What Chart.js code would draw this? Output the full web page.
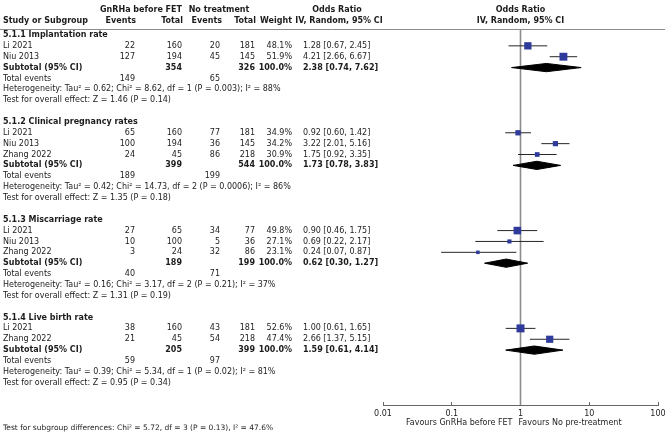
<!DOCTYPE html>
<html lang="en">
<head>
<meta charset="UTF-8">
<title>Forest plot</title>
<script src="https://cdn.jsdelivr.net/npm/chart.js"></script>
<style>
  html, body { margin: 0; padding: 0; background: #fff; }
  #wrap { width: 665px; height: 438px; }
</style>
</head>
<body>
<div id="wrap"><canvas id="forest" width="665" height="438"></canvas></div>
<script>
// ---- study level data ----
var studyGroup = [0, 0, 1, 1, 1, 2, 2, 2, 3, 3];
var studyNames = ["Li 2021", "Niu 2013", "Li 2021", "Niu 2013", "Zhang 2022", "Li 2021", "Niu 2013", "Zhang 2022", "Li 2021", "Zhang 2022"];
var gnrhEvents = [22, 127, 65, 100, 24, 27, 10, 3, 38, 21];
var gnrhTotal  = [160, 194, 160, 194, 45, 65, 100, 24, 160, 45];
var noEvents   = [20, 45, 77, 36, 86, 34, 5, 32, 43, 54];
var noTotal    = [181, 145, 181, 145, 218, 77, 36, 86, 181, 218];
var weights    = [48.1, 51.9, 34.9, 34.2, 30.9, 49.8, 27.1, 23.1, 52.6, 47.4];
var oddsRatio  = [1.28, 4.21, 0.92, 3.22, 1.75, 0.90, 0.69, 0.24, 1.00, 2.66];
var ciLow      = [0.67, 2.66, 0.60, 2.01, 0.92, 0.46, 0.22, 0.07, 0.61, 1.37];
var ciHigh     = [2.45, 6.67, 1.42, 5.16, 3.35, 1.75, 2.17, 0.87, 1.65, 5.15];

// ---- subgroup data ----
var groupTitles   = ["5.1.1 Implantation rate", "5.1.2 Clinical pregnancy rates", "5.1.3 Miscarriage rate", "5.1.4 Live birth rate"];
var subGnrhTotal  = [354, 399, 189, 205];
var subNoTotal    = [326, 544, 199, 399];
var subOr         = [2.38, 1.73, 0.62, 1.59];
var subLow        = [0.74, 0.78, 0.30, 0.61];
var subHigh       = [7.62, 3.83, 1.27, 4.14];
var sumGnrhEvents = [149, 189, 40, 59];
var sumNoEvents   = [65, 199, 71, 97];
var heterogeneity = [
  "Heterogeneity: Tau² = 0.62; Chi² = 8.62, df = 1 (P = 0.003); I² = 88%",
  "Heterogeneity: Tau² = 0.42; Chi² = 14.73, df = 2 (P = 0.0006); I² = 86%",
  "Heterogeneity: Tau² = 0.16; Chi² = 3.17, df = 2 (P = 0.21); I² = 37%",
  "Heterogeneity: Tau² = 0.39; Chi² = 5.34, df = 1 (P = 0.02); I² = 81%"
];
var overallEffect = [
  "Test for overall effect: Z = 1.46 (P = 0.14)",
  "Test for overall effect: Z = 1.35 (P = 0.18)",
  "Test for overall effect: Z = 1.31 (P = 0.19)",
  "Test for overall effect: Z = 0.95 (P = 0.34)"
];
var subgroupTest = "Test for subgroup differences: Chi² = 5.72, df = 3 (P = 0.13), I² = 47.6%";

// ---- axis ----
var tickValues = [0.01, 0.1, 1, 10, 100];
var tickLabels = ["0.01", "0.1", "1", "10", "100"];
var favoursLeft = "Favours GnRHa before FET";
var favoursRight = "Favours No pre-treatment";

// build the row list (one row per printed line)
var rows = [];
var studyRow = [];
var subRow = [];
groupTitles.forEach(function (t, g) {
  rows.push({ kind: "title", g: g });
  for (var i = 0; i < studyNames.length; i++) {
    if (studyGroup[i] === g) {
      studyRow[i] = rows.length;
      rows.push({ kind: "study", i: i });
    }
  }
  subRow[g] = rows.length;
  rows.push({ kind: "sub", g: g });
  rows.push({ kind: "events", g: g });
  rows.push({ kind: "het", g: g });
  rows.push({ kind: "effect", g: g });
  if (g < groupTitles.length - 1) rows.push({ kind: "blank" });
});

var Y_MIN = -0.55, Y_MAX = 34.05;
var TEXT = "#1c1c1c";
var FONT = "'DejaVu Sans', sans-serif";

function fmtOr(o, l, h) {
  return o.toFixed(2) + " [" + l.toFixed(2) + ", " + h.toFixed(2) + "]";
}

// datasets
var datasets = [];

// squares (size from weight)
datasets.push({
  type: "scatter",
  data: oddsRatio.map(function (o, i) { return { x: o, y: studyRow[i] }; }),
  pointStyle: "rect",
  pointRadius: weights.map(function (w) { return w * 0.152 / 1.414; }),
  pointBackgroundColor: "#2f3b9b",
  pointBorderColor: "#2f3b9b",
  pointBorderWidth: 0
});

// diamonds: upper half filled to lower half
subOr.forEach(function (o, g) {
  var r = subRow[g];
  datasets.push({
    type: "line",
    data: [{ x: subLow[g], y: r }, { x: o, y: r - 0.38 }, { x: subHigh[g], y: r }],
    borderColor: "#000", borderWidth: 1, pointRadius: 0, tension: 0,
    backgroundColor: "#000", fill: "+1"
  });
  datasets.push({
    type: "line",
    data: [{ x: subLow[g], y: r }, { x: o, y: r + 0.38 }, { x: subHigh[g], y: r }],
    borderColor: "#000", borderWidth: 1, pointRadius: 0, tension: 0, fill: false
  });
});

// confidence intervals
ciLow.forEach(function (l, i) {
  datasets.push({
    type: "line",
    data: [{ x: l, y: studyRow[i] }, { x: ciHigh[i], y: studyRow[i] }],
    borderColor: "#262626", borderWidth: 1, pointRadius: 0, fill: false
  });
});

// line of no effect
datasets.push({
  type: "line",
  data: [{ x: 1, y: Y_MIN }, { x: 1, y: Y_MAX }],
  borderColor: "#8c8c8c", borderWidth: 1.6, pointRadius: 0, fill: false
});

var tablePlugin = {
  id: "forestTable",
  afterDraw: function (chart) {
    var ctx = chart.ctx;
    var ys = chart.scales.y;
    var xs = chart.scales.x;
    var x1 = xs.getPixelForValue(1);
    var col = { name: 3, e1: 135, t1: 182, e2: 220, t2: 255, w: 292, or: 303 };

    function txt(s, x, y, align, bold, size) {
      ctx.font = (bold ? "bold " : "") + (size || 8) + "px " + FONT;
      ctx.textAlign = align;
      ctx.fillText(s, x, y);
    }

    ctx.save();
    ctx.fillStyle = TEXT;
    ctx.textBaseline = "middle";

    // headers
    txt("GnRHa before FET", 141, 10, "center", true);
    txt("No treatment", 219, 10, "center", true);
    txt("Odds Ratio", 337, 10, "center", true);
    txt("Odds Ratio", x1, 10, "center", true);
    txt("Study or Subgroup", col.name, 21, "left", true);
    txt("Events", col.e1 + 1, 21, "right", true);
    txt("Total", col.t1 + 1, 21, "right", true);
    txt("Events", col.e2 + 2, 21, "right", true);
    txt("Total", col.t2 + 1, 21, "right", true);
    txt("Weight", col.w, 21, "right", true);
    txt("IV, Random, 95% CI", 339, 21, "center", true);
    txt("IV, Random, 95% CI", x1, 21, "center", true);

    // header rule
    ctx.strokeStyle = "#8c8c8c";
    ctx.lineWidth = 1;
    ctx.beginPath();
    ctx.moveTo(0, chart.chartArea.top + 0.5);
    ctx.lineTo(chart.width, chart.chartArea.top + 0.5);
    ctx.stroke();

    rows.forEach(function (r, k) {
      var y = ys.getPixelForValue(k);
      if (r.kind === "title") {
        txt(groupTitles[r.g], col.name, y, "left", true);
      } else if (r.kind === "study") {
        var i = r.i;
        txt(studyNames[i], col.name, y, "left", false);
        txt(String(gnrhEvents[i]), col.e1, y, "right", false);
        txt(String(gnrhTotal[i]), col.t1, y, "right", false);
        txt(String(noEvents[i]), col.e2, y, "right", false);
        txt(String(noTotal[i]), col.t2, y, "right", false);
        txt(weights[i].toFixed(1) + "%", col.w, y, "right", false);
        txt(fmtOr(oddsRatio[i], ciLow[i], ciHigh[i]), col.or, y, "left", false);
      } else if (r.kind === "sub") {
        var g = r.g;
        txt("Subtotal (95% CI)", col.name, y, "left", true);
        txt(String(subGnrhTotal[g]), col.t1, y, "right", true);
        txt(String(subNoTotal[g]), col.t2, y, "right", true);
        txt("100.0%", col.w, y, "right", true);
        txt(fmtOr(subOr[g], subLow[g], subHigh[g]), col.or, y, "left", true);
      } else if (r.kind === "events") {
        txt("Total events", col.name, y, "left", false);
        txt(String(sumGnrhEvents[r.g]), col.e1, y, "right", false);
        txt(String(sumNoEvents[r.g]), col.e2, y, "right", false);
      } else if (r.kind === "het") {
        txt(heterogeneity[r.g], col.name, y, "left", false);
      } else if (r.kind === "effect") {
        txt(overallEffect[r.g], col.name, y, "left", false);
      }
    });

    txt(subgroupTest, col.name, 428, "left", false, 7.5);
    txt(favoursLeft, x1 - 8, 423, "right", false);
    txt(favoursRight, x1 - 2, 423, "left", false);
    ctx.restore();
  }
};

new Chart(document.getElementById("forest"), {
  type: "scatter",
  data: { datasets: datasets },
  options: {
    responsive: false,
    animation: false,
    devicePixelRatio: 1,
    layout: { padding: { left: 383, right: 7, top: 29, bottom: 0 } },
    plugins: { legend: { display: false }, tooltip: { enabled: false } },
    scales: {
      x: {
        type: "logarithmic",
        min: 0.01,
        max: 100,
        afterBuildTicks: function (s) {
          s.ticks = tickValues.map(function (v) { return { value: v }; });
        },
        afterFit: function (s) {
          s.height = 33;
          s.paddingLeft = 0;
          s.paddingRight = 0;
        },
        ticks: {
          autoSkip: false,
          maxRotation: 0,
          padding: 7,
          color: TEXT,
          font: { family: FONT, size: 8 },
          callback: function (v, i) { return tickLabels[i]; }
        },
        grid: { drawOnChartArea: false, tickLength: -3, color: "#666" },
        border: { color: "#666", width: 1 }
      },
      y: {
        type: "linear",
        display: false,
        reverse: true,
        min: Y_MIN,
        max: Y_MAX
      }
    }
  },
  plugins: [tablePlugin]
});
</script>
</body>
</html>
